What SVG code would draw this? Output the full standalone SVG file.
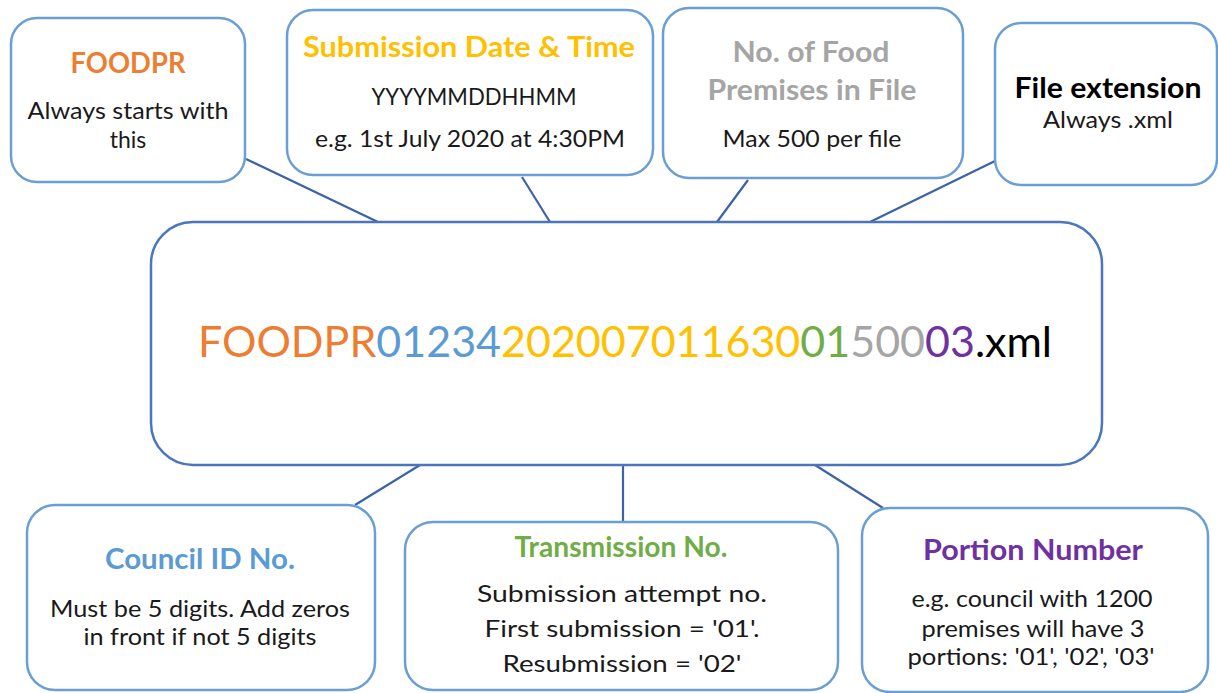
<svg xmlns="http://www.w3.org/2000/svg" width="1218" height="693" viewBox="0 0 1218 693">
<style>
.box{fill:#fff;stroke:#6a9fd6;stroke-width:2.5}
.main{fill:#fff;stroke:#4a76c0;stroke-width:2.5}
.con{stroke:#3c62a8;stroke-width:2.2;fill:none}
text{font-family:Lato,"Open Sans",sans-serif;text-anchor:middle}
.t{font-weight:bold;font-size:29px}
.b{font-size:23px;fill:#1a1a1a}
.m{font-size:43px;text-anchor:middle}
</style>
<g id="connectors">
<line class="con" x1="246" y1="159" x2="378" y2="222"/>
<line class="con" x1="522" y1="177" x2="550" y2="222"/>
<line class="con" x1="748" y1="180" x2="717" y2="222"/>
<line class="con" x1="995" y1="161" x2="870" y2="222"/>
<line class="con" x1="420" y1="465" x2="355" y2="505"/>
<line class="con" x1="623" y1="465" x2="623" y2="522"/>
<line class="con" x1="815" y1="465" x2="883" y2="508"/>
</g>
<g id="main">
<rect class="main" x="151" y="222" width="951" height="243" rx="42"/>
<text class="m" x="625" y="357"><tspan fill="#ED7D31">FOODPR</tspan><tspan fill="#5B9BD5">01234</tspan><tspan fill="#FFC000">202007011630</tspan><tspan fill="#70AD47">01</tspan><tspan fill="#A5A5A5">500</tspan><tspan fill="#7030A0">03</tspan><tspan fill="#000">.xml</tspan></text>
</g>
<g id="foodpr">
<rect class="box" x="11" y="18" width="234" height="164" rx="26"/>
<text class="t" x="128" y="73" fill="#ED7D31" textLength="115" lengthAdjust="spacingAndGlyphs">FOODPR</text>
<text class="b" x="128" y="119" textLength="201" lengthAdjust="spacingAndGlyphs">Always starts with</text>
<text class="b" x="128" y="148">this</text>
</g>
<g id="submission">
<rect class="box" x="287" y="10" width="366" height="165" rx="26"/>
<text class="t" x="469" y="57" fill="#FFC000" textLength="332" lengthAdjust="spacingAndGlyphs">Submission Date &amp; Time</text>
<text class="b" x="474" y="105" textLength="205" lengthAdjust="spacingAndGlyphs">YYYYMMDDHHMM</text>
<text class="b" x="470" y="147" textLength="310" lengthAdjust="spacingAndGlyphs">e.g. 1st July 2020 at 4:30PM</text>
</g>
<g id="premises">
<rect class="box" x="663" y="8" width="300" height="170" rx="26"/>
<text class="t" x="811" y="62" fill="#A5A5A5" textLength="157" lengthAdjust="spacingAndGlyphs">No. of Food</text>
<text class="t" x="812" y="100" fill="#A5A5A5" textLength="209" lengthAdjust="spacingAndGlyphs">Premises in File</text>
<text class="b" x="812" y="147" textLength="179" lengthAdjust="spacingAndGlyphs">Max 500 per file</text>
</g>
<g id="extension">
<rect class="box" x="995" y="23" width="222" height="162" rx="26"/>
<text class="t" x="1108" y="98" fill="#000" textLength="187" lengthAdjust="spacingAndGlyphs">File extension</text>
<text class="b" x="1108" y="128" textLength="130" lengthAdjust="spacingAndGlyphs">Always .xml</text>
</g>
<g id="council">
<rect class="box" x="27" y="505" width="348" height="185" rx="28"/>
<text class="t" x="200" y="569" fill="#5B9BD5" textLength="190" lengthAdjust="spacingAndGlyphs">Council ID No.</text>
<text class="b" x="200" y="617" textLength="300" lengthAdjust="spacingAndGlyphs">Must be 5 digits. Add zeros</text>
<text class="b" x="200" y="645" textLength="233" lengthAdjust="spacingAndGlyphs">in front if not 5 digits</text>
</g>
<g id="transmission">
<rect class="box" x="405" y="522" width="433" height="168" rx="28"/>
<text class="t" x="621" y="557" fill="#70AD47" textLength="213" lengthAdjust="spacingAndGlyphs">Transmission No.</text>
<text class="b" x="622" y="602" textLength="290" lengthAdjust="spacingAndGlyphs">Submission attempt no.</text>
<text class="b" x="622" y="637" textLength="275" lengthAdjust="spacingAndGlyphs">First submission = '01'.</text>
<text class="b" x="622" y="672" textLength="239" lengthAdjust="spacingAndGlyphs">Resubmission = '02'</text>
</g>
<g id="portion">
<rect class="box" x="862" y="508" width="346" height="184" rx="28"/>
<text class="t" x="1033" y="560" fill="#7030A0" textLength="220" lengthAdjust="spacingAndGlyphs">Portion Number</text>
<text class="b" x="1032" y="607" textLength="241" lengthAdjust="spacingAndGlyphs">e.g. council with 1200</text>
<text class="b" x="1033" y="637" textLength="223" lengthAdjust="spacingAndGlyphs">premises will have 3</text>
<text class="b" x="1031" y="665" textLength="247" lengthAdjust="spacingAndGlyphs">portions: '01', '02', '03'</text>
</g>
</svg>
